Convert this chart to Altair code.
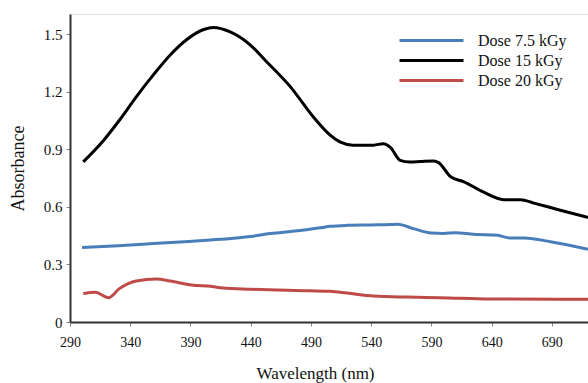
import altair as alt
import pandas as pd

series_names = ["Dose 7.5 kGy", "Dose 15 kGy", "Dose 20 kGy"]
series_colors = ["#4a7ebb", "#000000", "#be4b48"]

wl_75 = [300, 330, 359, 385, 415, 440, 456, 481, 498, 506, 520, 540, 556, 562, 575, 590, 600, 610, 625, 645, 655, 667, 690, 720]
abs_75 = [0.388, 0.398, 0.409, 0.419, 0.431, 0.446, 0.461, 0.477, 0.491, 0.499, 0.504, 0.506, 0.508, 0.51, 0.487,
          0.464, 0.462, 0.466, 0.457, 0.452, 0.438, 0.438, 0.417, 0.379]

wl_15 = [301, 318, 331, 345, 359, 373, 387, 401, 409, 423, 440, 452, 473, 492, 506, 514, 525, 542, 550,
         556, 564, 572, 581, 592, 596, 606, 617, 633, 650, 664, 675, 697, 720]
abs_15 = [0.835, 0.948, 1.052, 1.174, 1.287, 1.391, 1.473, 1.525, 1.536, 1.513, 1.443, 1.365, 1.226, 1.069,
          0.974, 0.939, 0.922, 0.922, 0.93, 0.91, 0.843, 0.834, 0.837, 0.84, 0.831, 0.757, 0.731, 0.678,
          0.638, 0.638, 0.62, 0.583, 0.545]

wl_20 = [301, 311, 322, 331, 345, 362, 373, 395, 404, 417, 440, 489, 506, 520, 542, 570, 597, 639, 697, 720]
abs_20 = [0.148, 0.155, 0.127, 0.174, 0.214, 0.224, 0.214, 0.19, 0.188, 0.177, 0.171, 0.163, 0.16, 0.151,
          0.136, 0.13, 0.127, 0.12, 0.118, 0.118]

x_ticks = [290, 340, 390, 440, 490, 540, 590, 640, 690]
y_ticks = [0, 0.3, 0.6, 0.9, 1.2, 1.5]

rows = []
for name, wls, vals in zip(series_names, [wl_75, wl_15, wl_20], [abs_75, abs_15, abs_20]):
    for w, a in zip(wls, vals):
        rows.append({"Wavelength": w, "Absorbance": a, "Dose": name})
df = pd.DataFrame(rows)

font = "Liberation Serif"

chart = alt.Chart(df).mark_line(strokeWidth=3, interpolate="monotone", clip=True).encode(
    x=alt.X("Wavelength:Q",
            scale=alt.Scale(domain=[290, 720], nice=False, zero=False),
            axis=alt.Axis(values=x_ticks, title="Wavelength (nm)", grid=False,
                          labelFont=font, labelFontSize=14, labelColor="#111",
                          titleFont=font, titleFontSize=17, titleFontWeight="normal", titleColor="#111",
                          domainColor="#333", domainWidth=2, tickColor="#888", tickSize=4,
                          labelPadding=9, titlePadding=16, titleX=245, labelFlush=False)),
    y=alt.Y("Absorbance:Q",
            scale=alt.Scale(domain=[0, 1.606], nice=False),
            axis=alt.Axis(values=y_ticks, format=".1~f", title="Absorbance", grid=False,
                          labelFont=font, labelFontSize=15, labelColor="#111",
                          titleFont=font, titleFontSize=18, titleFontWeight="normal", titleColor="#111",
                          domainColor="#333", domainWidth=2, tickColor="#888", tickSize=4,
                          labelPadding=4, titlePadding=16)),
    color=alt.Color("Dose:N",
                    scale=alt.Scale(domain=series_names, range=series_colors),
                    legend=alt.Legend(title=None, orient="none", legendX=352, legendY=17,
                                      symbolType="M-4,0H4", symbolSize=256, symbolStrokeWidth=3,
                                      symbolFillColor="transparent",
                                      labelFont=font, labelFontSize=16, labelColor="#111",
                                      labelOffset=37, rowPadding=2, padding=0)),
    order=alt.Order("Wavelength:Q"),
).properties(
    width=518, height=308,
    autosize=alt.AutoSizeParams(type="none"),
    padding={"left": 70, "top": 14, "right": 0, "bottom": 61},
).configure_view(stroke=None).configure(background="white")

chart.save("out.html", embed_options={"renderer": "svg", "actions": False})
